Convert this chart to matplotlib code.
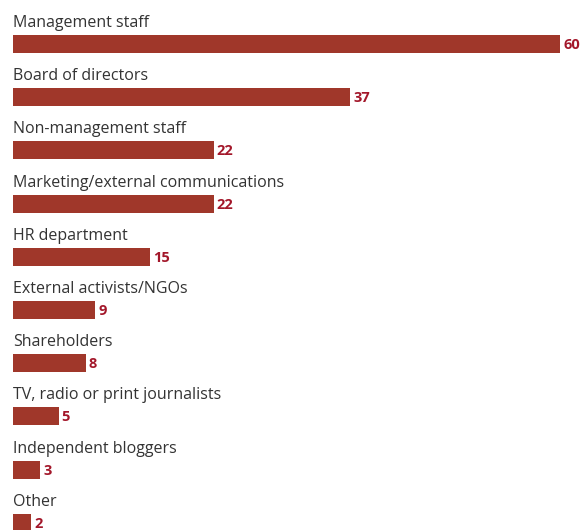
import matplotlib
matplotlib.use("Agg")
from matplotlib import pyplot as plt

categories = ["Management staff", "Board of directors", "Non-management staff",
              "Marketing/external communications", "HR department",
              "External activists/NGOs", "Shareholders",
              "TV, radio or print journalists", "Independent bloggers", "Other"]
values = [60, 37, 22, 22, 15, 9, 8, 5, 3, 2]

BAR_COLOR = "#A0372A"
VALUE_COLOR = "#A3172A"
TEXT_COLOR = "#333333"

W, H = 582, 530
fig = plt.figure(figsize=(W / 100, H / 100), dpi=100)
ax = fig.add_axes([0, 0, 1, 1])

# x in data units, y in pixel rows
px_per_unit = 547 / 60
x0 = 13
ax.set_xlim(-x0 / px_per_unit, (W - x0) / px_per_unit)
ax.set_ylim(H, 0)

row_gap = 53.2
first_center = 44
bar_h = 18
centers = [first_center + row_gap * i for i in range(len(values))]

ax.barh(centers, values, height=bar_h, color=BAR_COLOR, left=0)

for c, cat, v in zip(centers, categories, values):
    ax.text(0, c - 17, cat, fontsize=11.5, family="Open Sans", color=TEXT_COLOR,
            va="baseline", ha="left")
    ax.text(v + 3 / px_per_unit, c + 1, str(v), fontsize=10.5, family="Open Sans",
            fontweight="bold", color=VALUE_COLOR, va="center", ha="left")

ax.axis("off")
fig.savefig("out.png", dpi=100)
